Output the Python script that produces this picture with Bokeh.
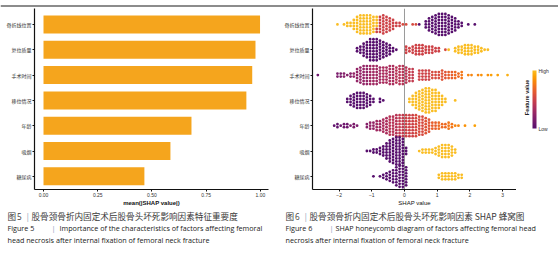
import math
from bokeh.plotting import figure
from bokeh.models import (Range1d, FixedTicker, LinearColorMapper, ColorBar, Span, Label,
                          ColumnDataSource, NumeralTickFormatter)
from bokeh.layouts import row, column
from bokeh.palettes import Inferno256
from bokeh.embed import file_html
from bokeh.resources import INLINE

# ---------------- data ----------------
features = ["骨折线位置", "复位质量", "手术时间", "移位情况", "年龄", "吸烟", "糖尿病"]
importance = [0.998, 0.977, 0.962, 0.935, 0.682, 0.585, 0.465]
imp_ticks = [0.0, 0.25, 0.5, 0.75, 1.0]
shap_ticks = [-2, -1, 0, 1, 2, 3]

# beeswarm: SHAP value (bin centre), number of samples in the bin, feature value (0 = low, 1 = high)
r1_x = [-2.05, -1.85, -1.75, -1.65, -1.55, -1.45, -1.35, -1.25, -1.15, -1.05, -0.95, -0.85, -0.85,
        -0.75, -0.65, -0.55, -0.45, -0.35, -0.25, -0.15, -0.05, 0.05, 0.25, 0.35,
        0.45, 0.65, 0.75, 0.85, 0.95, 1.05, 1.15, 1.25, 1.35, 1.45, 1.55, 1.65, 1.75, 1.95, 2.15]
r1_n = [1, 1, 2, 2, 4, 6, 7, 7, 7, 7, 6, 4, 2,
        6, 7, 6, 5, 4, 2, 2, 1, 1, 1, 1,
        1, 3, 5, 6, 7, 8, 8, 8, 7, 6, 5, 3, 2, 1, 1]
r1_v = [1, 1, 1, 1, 1, 1, 1, 1, 1, 1, 1, 1, 0.5,
        0.5, 0.5, 0.5, 0.5, 0.5, 0.5, 0.5, 0.55, 0.55, 0.55, 0.55,
        0, 0, 0, 0, 0, 0, 0, 0, 0, 0, 0, 0, 0, 0, 0]

r2_x = [-1.45, -1.35, -1.25, -1.15, -1.05, -0.95, -0.85, -0.75, -0.65, -0.55, -0.45, -0.35, -0.25,
        0.05, 0.15, 0.25, 0.35, 0.45, 0.55, 0.65, 0.75, 0.85, 0.95, 1.05, 1.25,
        1.35, 1.55, 1.65, 1.75, 1.85, 1.95, 2.05, 2.15, 2.25, 2.35, 2.45, 2.55]
r2_n = [2, 3, 5, 6, 8, 8, 8, 7, 6, 5, 4, 2, 1,
        3, 2, 3, 4, 4, 4, 3, 3, 3, 2, 2, 1,
        1, 2, 3, 3, 4, 4, 4, 3, 3, 2, 1, 1]
r2_v = [0, 0, 0, 0, 0, 0, 0, 0, 0, 0, 0, 0, 0,
        0.5, 0.5, 0.5, 0.5, 0.5, 0.5, 0.5, 0.5, 0.5, 0.5, 0.5, 0.55,
        1, 1, 1, 1, 1, 1, 1, 1, 1, 1, 1, 1]

r3_x = [-2.65, -2.05, -1.95, -1.85, -1.75, -1.65, -1.55,
        -1.45, -1.35, -1.25, -1.15, -1.05, -0.95, -0.85, -0.75, -0.65, -0.55, -0.45, -0.35,
        -0.25, -0.15, -0.05, 0.05, 0.15, 0.25,
        0.45, 0.55, 0.65, 0.75, 0.85, 0.95, 1.05, 1.15, 1.25, 1.35, 1.45, 1.55, 1.65, 1.75,
        1.95, 2.05, 2.25, 2.35, 2.55, 2.65, 2.85, 3.15]
r3_n = [1, 2, 2, 2, 1, 2, 2,
        5, 6, 7, 7, 7, 7, 7, 6, 6, 6, 7, 7,
        6, 7, 7, 6, 5, 5,
        4, 4, 4, 4, 3, 3, 3, 4, 3, 3, 3, 3, 2, 3,
        1, 1, 1, 1, 1, 1, 1, 1]
r3_v = [0.1, 0.15, 0.15, 0.2, 0.2, 0.2, 0.25,
        0.25, 0.25, 0.25, 0.25, 0.3, 0.3, 0.3, 0.3, 0.35, 0.35, 0.35, 0.35,
        0.4, 0.4, 0.4, 0.4, 0.45, 0.45,
        0.5, 0.5, 0.5, 0.5, 0.55, 0.55, 0.55, 0.6, 0.6, 0.65, 0.65, 0.7, 0.7, 0.75,
        0.8, 0.8, 0.8, 0.85, 0.85, 0.9, 0.9, 0.95]

r4_x = [-1.75, -1.65, -1.55, -1.45, -1.35, -1.25, -1.15, -1.05, -0.95, -0.75, -0.65,
        0.15, 0.25, 0.35, 0.45, 0.55, 0.65, 0.75, 0.85, 0.95, 1.05, 1.15, 1.25, 1.55]
r4_n = [2, 4, 5, 6, 6, 6, 5, 4, 2, 2, 1,
        2, 4, 6, 7, 8, 9, 9, 8, 8, 6, 4, 2, 1]
r4_v = [0, 0, 0, 0, 0, 0, 0, 0, 0, 0, 0,
        1, 1, 1, 1, 1, 1, 1, 1, 1, 1, 1, 1, 1]

r5_x = [-2.15, -2.05, -1.95, -1.85, -1.75, -1.65, -1.55, -1.45,
        -1.15, -1.05, -0.95, -0.85, -0.75, -0.65,
        -0.55, -0.45, -0.35, -0.25, -0.15, -0.05, 0.05, 0.15, 0.25, 0.35, 0.45, 0.55, 0.65, 0.75,
        0.85, 0.95, 1.05, 1.15, 1.25, 1.35, 1.45, 1.55, 1.65, 1.85, 2.15]
r5_n = [1, 2, 1, 2, 2, 1, 2, 1,
        2, 3, 3, 4, 4, 5,
        6, 7, 7, 8, 8, 8, 8, 8, 8, 8, 7, 7, 6, 5,
        3, 3, 3, 2, 2, 3, 2, 1, 1, 1, 1]
r5_v = [0.05, 0.05, 0.1, 0.1, 0.1, 0.15, 0.15, 0.15,
        0.2, 0.25, 0.25, 0.3, 0.3, 0.35,
        0.35, 0.4, 0.4, 0.4, 0.45, 0.45, 0.5, 0.5, 0.5, 0.55, 0.55, 0.55, 0.6, 0.6,
        0.65, 0.65, 0.7, 0.7, 0.7, 0.75, 0.75, 0.8, 0.8, 0.85, 0.9]

r6_x = [-1.15, -1.05, -0.95, -0.85, -0.75, -0.65, -0.55, -0.45, -0.35, -0.25, -0.15, -0.05, 0.05,
        0.45, 0.55, 0.65, 0.75, 0.85, 0.95, 1.05, 1.15, 1.25, 1.35, 1.45, 1.55]
r6_n = [1, 1, 2, 2, 3, 4, 6, 8, 9, 10, 10, 9, 3,
        1, 2, 2, 2, 2, 3, 4, 5, 5, 5, 4, 2]
r6_v = [0, 0, 0, 0, 0, 0, 0, 0, 0, 0, 0, 0, 0,
        1, 1, 1, 1, 1, 1, 1, 1, 1, 1, 1, 1]

r7_x = [-0.95, -0.75, -0.65, -0.55, -0.45, -0.35, -0.25, -0.15, -0.05, 0.05,
        1.05, 1.15, 1.25, 1.35, 1.45, 1.55, 1.65, 1.75]
r7_n = [1, 1, 2, 3, 4, 5, 7, 8, 10, 7,
        2, 3, 3, 3, 3, 3, 2, 2]
r7_v = [0, 0, 0, 0, 0, 0, 0, 0, 0, 0,
        1, 1, 1, 1, 1, 1, 1, 1]

swarm_rows = [(r1_x, r1_n, r1_v), (r2_x, r2_n, r2_v), (r3_x, r3_n, r3_v), (r4_x, r4_n, r4_v),
              (r5_x, r5_n, r5_v), (r6_x, r6_n, r6_v), (r7_x, r7_n, r7_v)]

# ---------------- layout constants ----------------
RULE_H = 8                       # strip at the top holding the page rule
PLOT_H = 200
BORDER_TOP, BORDER_BOTTOM = 0, 19
Y_RANGE = (6.52, -0.63)
PX_PER_ROW = (PLOT_H - BORDER_TOP - BORDER_BOTTOM) / abs(Y_RANGE[0] - Y_RANGE[1])
DOT_STEP = 3.0 / PX_PER_ROW
CAP_H = 50

CJK = "Noto Sans CJK SC"
LAT = "Liberation Sans"
CAP_LAT = "Open Sans"
BAR_COLOR = "#f5a51d"

# swarm layout (stack the samples of each bin around the row centre)
sx, sy, sv = [], [], []
for i, (bx, bn, bv) in enumerate(swarm_rows):
    cols = {}
    for x, n, v in zip(bx, bn, bv):
        cols.setdefault(x, []).extend([v] * n)
    for x, vals in cols.items():
        c = len(vals)
        for k, v in enumerate(vals):
            sx.append(x)
            sy.append(i + (k - (c - 1) / 2) * DOT_STEP)
            sv.append(v)
swarm_src = ColumnDataSource(dict(x=sx, y=sy, v=sv))


def style_axes(p):
    p.xgrid.visible = False
    p.ygrid.visible = False
    p.outline_line_color = None
    for ax in (p.xaxis[0], p.yaxis[0]):
        ax.axis_line_color = "#111111"
        ax.axis_line_width = 1.2
        ax.major_tick_line_color = "#111111"
        ax.major_tick_line_width = 1
        ax.major_tick_out = 2
        ax.major_tick_in = 0
        ax.minor_tick_line_color = None
        ax.major_label_text_font_size = "5px"
        ax.major_label_text_color = "#333333"
        ax.major_label_standoff = 1
    p.yaxis[0].ticker = FixedTicker(ticks=list(range(len(features))))
    p.yaxis[0].major_label_overrides = {i: f for i, f in enumerate(features)}
    p.yaxis[0].major_label_text_font = CJK
    p.xaxis[0].major_label_text_font = LAT
    p.xaxis[0].axis_label_text_font = LAT
    p.xaxis[0].axis_label_text_font_size = "6px"
    p.xaxis[0].axis_label_text_color = "#111111"
    p.xaxis[0].axis_label_standoff = 0


def blank_figure(w, h, **kw):
    f = figure(width=w, height=h, x_axis_type=None, y_axis_type=None, output_backend="svg",
               toolbar_location=None, x_range=Range1d(0, 1), y_range=Range1d(0, 1), **kw)
    f.outline_line_color = None
    f.xgrid.visible = False
    f.ygrid.visible = False
    return f


# ---------------- top strip with the page rule ----------------
rule = blank_figure(558, RULE_H, min_border=0)
rule.hbar(y=[1 - 1.5 / RULE_H], left=[0], right=[1], height=1.2 / RULE_H,
          fill_color="#1a1a1a", line_color=None)

# ---------------- left: importance ----------------
p1 = figure(width=279, height=PLOT_H, x_range=Range1d(-0.0415, 1.037), y_range=Range1d(*Y_RANGE),
            output_backend="svg", toolbar_location=None,
            min_border_left=34, min_border_right=11, min_border_top=BORDER_TOP,
            min_border_bottom=BORDER_BOTTOM)
p1.hbar(y=list(range(len(features))), right=importance, left=0, height=0.71,
        fill_color=BAR_COLOR, line_color=None)
style_axes(p1)
p1.xaxis[0].ticker = FixedTicker(ticks=imp_ticks)
p1.xaxis[0].formatter = NumeralTickFormatter(format="0.00")
p1.xaxis[0].axis_label = "mean(|SHAP value|)"
p1.xaxis[0].axis_label_text_font_style = "bold"

# ---------------- right: beeswarm ----------------
mapper = LinearColorMapper(palette=Inferno256[64:218], low=0, high=1)
p2 = figure(width=237, height=PLOT_H, x_range=Range1d(-2.813, 3.425), y_range=Range1d(*Y_RANGE),
            output_backend="svg", toolbar_location=None,
            min_border_left=33, min_border_right=0, min_border_top=BORDER_TOP,
            min_border_bottom=BORDER_BOTTOM)
p2.add_layout(Span(location=0, dimension="height", line_color="#9a9a9a", line_width=1, level="underlay"))
p2.scatter(x="x", y="y", source=swarm_src, size=2.8, marker="circle",
           fill_color={"field": "v", "transform": mapper}, line_color=None)
style_axes(p2)
p2.xaxis[0].ticker = FixedTicker(ticks=shap_ticks)
p2.xaxis[0].axis_label = "SHAP value"
p2.xaxis[0].axis_label_text_font_style = "normal"

# ---------------- legend (colour bar) ----------------
# the row layout aligns this figure's frame with the plot frames (y measured up from the x-axis line)
leg = blank_figure(42, PLOT_H, min_border=0)
cb = ColorBar(color_mapper=mapper, location=(16, 61), width=4, height=58, orientation="vertical",
              ticker=FixedTicker(ticks=[0, 1]), major_label_overrides={0: "Low", 1: "High"},
              major_label_text_font_size="5px", major_label_text_font=LAT,
              major_label_text_color="#333333", major_tick_line_color=None,
              bar_line_color=None, background_fill_alpha=0, border_line_color=None,
              padding=0, label_standoff=2)
leg.add_layout(cb, "center")
leg.add_layout(Label(x=10, y=92, x_units="screen", y_units="screen", text="Feature value",
                     angle=math.pi / 2, text_font=LAT, text_font_size="5.5px", text_font_style="bold",
                     text_color="#222222", text_align="center", text_baseline="middle"))

# ---------------- captions ----------------
cap = blank_figure(558, CAP_H, min_border=0)
CAP_CN = "#3a3a3a"
CAP_EN = "#1a1a1a"
BAR_SEP = "#8ea3b8"
CAP_TOP = RULE_H + PLOT_H
BASELINES = [215.5, 227.5, 239.5]   # page y of the three caption baselines


def caption(x, line, text, size, color, font, style="normal"):
    y = CAP_H - (BASELINES[line] - CAP_TOP)
    cap.add_layout(Label(x=x, y=y, x_units="screen", y_units="screen", text=text,
                         text_font_size=size, text_color=color, text_font=font,
                         text_font_style=style, text_baseline="alphabetic", text_align="left"))


for x0, num, cn, en1, en2, sep_x, en_x in [
        (7, "5", "股骨颈骨折内固定术后股骨头坏死影响因素特征重要度",
         "Importance of the characteristics of factors affecting femoral",
         "head necrosis after internal fixation of femoral neck fracture", 51, 59),
        (285, "6", "股骨颈骨折内固定术后股骨头坏死影响因素 SHAP 蜂窝图",
         "SHAP honeycomb diagram of factors affecting femoral head",
         "necrosis after internal fixation of femoral neck fracture", 329, 335)]:
    caption(x0, 0, "图", "8.6px", CAP_CN, CJK)
    caption(x0 + 9.5, 0, num, "8.2px", CAP_CN, CAP_LAT)
    caption(x0 + 18, 0, "|", "8.2px", BAR_SEP, CAP_LAT)
    caption(x0 + 24, 0, cn, "8.6px", CAP_CN, CJK)
    caption(x0, 1, "Figure " + num, "7.2px", CAP_EN, CAP_LAT)
    caption(sep_x, 1, "|", "7.5px", BAR_SEP, CAP_LAT)
    caption(en_x, 1, en1, "7.2px", CAP_EN, CAP_LAT)
    caption(x0, 2, en2, "7.2px", CAP_EN, CAP_LAT)

layout = column(rule, row(p1, p2, leg, spacing=0), cap, spacing=0)

with open("out.html", "w") as f:
    f.write(file_html(layout, INLINE))
